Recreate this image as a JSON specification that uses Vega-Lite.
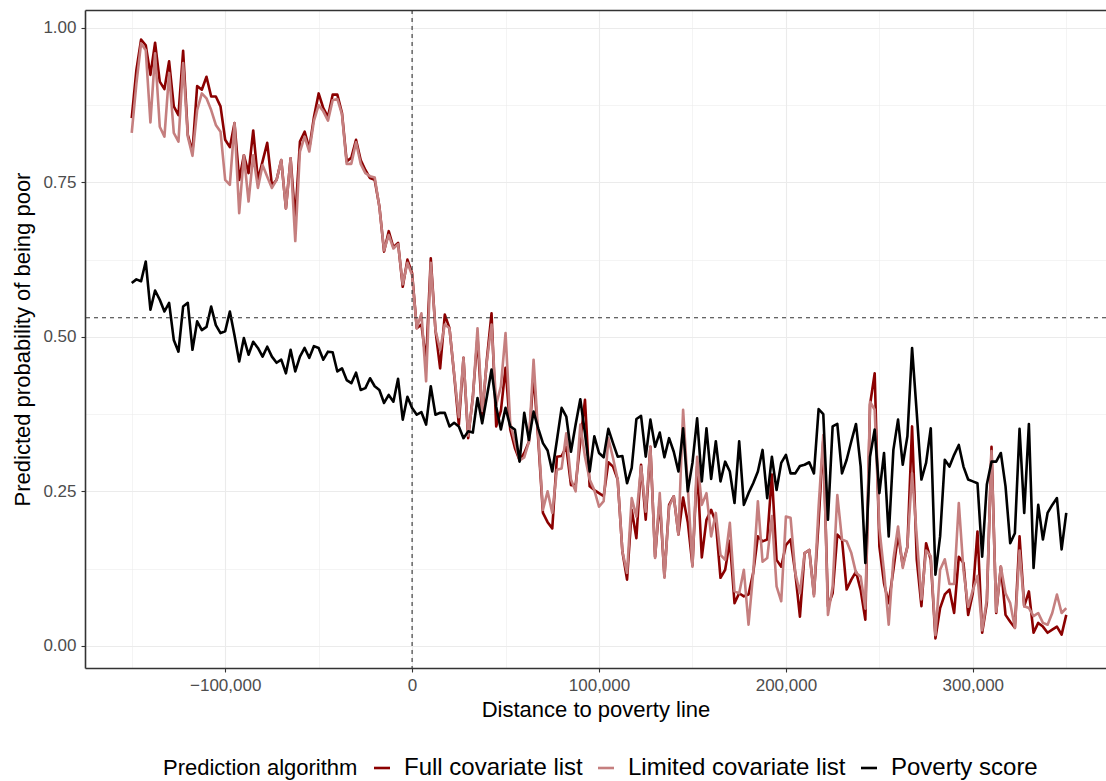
{
  "$schema": "https://vega.github.io/schema/vega-lite/v6.json",
  "width": 1021,
  "height": 658,
  "autosize": {"type": "none"},
  "padding": {"left": 85, "top": 10, "right": 0, "bottom": 113},
  "background": "white",
  "config": {
    "font": "Liberation Sans",
    "view": {"stroke": null},
    "axis": {
      "labelFont": "Liberation Sans", "labelFontSize": 17, "labelColor": "#4D4D4D",
      "titleFont": "Liberation Sans", "titleFontSize": 22, "titleFontWeight": "normal", "titleColor": "#000000",
      "tickColor": "#333333", "tickWidth": 1.1, "tickSize": 4,
      "domainColor": "#333333", "domainWidth": 1.6,
      "gridColor": "#EBEBEB", "gridWidth": 1.1
    }
  },
  "resolve": {"axis": {"x": "independent", "y": "independent"}},
  "layer": [
    {
      "data": {"values": [
        {"x":-150000,"full":0.854,"limited":0.830,"score":0.587},
        {"x":-147500,"full":0.932,"limited":0.910,"score":0.593},
        {"x":-145000,"full":0.981,"limited":0.975,"score":0.590},
        {"x":-142500,"full":0.972,"limited":0.964,"score":0.622},
        {"x":-140000,"full":0.924,"limited":0.847,"score":0.544},
        {"x":-137500,"full":0.976,"limited":0.959,"score":0.575},
        {"x":-135000,"full":0.913,"limited":0.840,"score":0.560},
        {"x":-132500,"full":0.901,"limited":0.824,"score":0.541},
        {"x":-130000,"full":0.946,"limited":0.927,"score":0.555},
        {"x":-127500,"full":0.873,"limited":0.830,"score":0.495},
        {"x":-125000,"full":0.859,"limited":0.816,"score":0.476},
        {"x":-122500,"full":0.963,"limited":0.943,"score":0.549},
        {"x":-120000,"full":0.827,"limited":0.824,"score":0.555},
        {"x":-117500,"full":0.800,"limited":0.793,"score":0.479},
        {"x":-115000,"full":0.906,"limited":0.867,"score":0.525},
        {"x":-112500,"full":0.900,"limited":0.894,"score":0.511},
        {"x":-110000,"full":0.921,"limited":0.886,"score":0.516},
        {"x":-107500,"full":0.889,"limited":0.867,"score":0.549},
        {"x":-105000,"full":0.889,"limited":0.843,"score":0.519},
        {"x":-102500,"full":0.873,"limited":0.832,"score":0.506},
        {"x":-100000,"full":0.819,"limited":0.754,"score":0.509},
        {"x":-97500,"full":0.807,"limited":0.746,"score":0.541},
        {"x":-95000,"full":0.846,"limited":0.846,"score":0.502},
        {"x":-92500,"full":0.754,"limited":0.700,"score":0.460},
        {"x":-90000,"full":0.794,"limited":0.794,"score":0.498},
        {"x":-87500,"full":0.765,"limited":0.719,"score":0.471},
        {"x":-85000,"full":0.834,"limited":0.794,"score":0.492},
        {"x":-82500,"full":0.754,"limited":0.741,"score":0.482},
        {"x":-80000,"full":0.784,"limited":0.778,"score":0.468},
        {"x":-77500,"full":0.814,"limited":0.759,"score":0.484},
        {"x":-75000,"full":0.745,"limited":0.741,"score":0.468},
        {"x":-72500,"full":0.754,"limited":0.754,"score":0.458},
        {"x":-70000,"full":0.786,"limited":0.786,"score":0.463},
        {"x":-67500,"full":0.708,"limited":0.708,"score":0.441},
        {"x":-65000,"full":0.789,"limited":0.789,"score":0.479},
        {"x":-62500,"full":0.690,"limited":0.655,"score":0.444},
        {"x":-60000,"full":0.816,"limited":0.800,"score":0.468},
        {"x":-57500,"full":0.832,"limited":0.824,"score":0.482},
        {"x":-55000,"full":0.805,"limited":0.800,"score":0.466},
        {"x":-52500,"full":0.856,"limited":0.850,"score":0.485},
        {"x":-50000,"full":0.894,"limited":0.875,"score":0.482},
        {"x":-47500,"full":0.870,"limited":0.865,"score":0.463},
        {"x":-45000,"full":0.856,"limited":0.850,"score":0.476},
        {"x":-42500,"full":0.892,"limited":0.883,"score":0.475},
        {"x":-40000,"full":0.892,"limited":0.885,"score":0.444},
        {"x":-37500,"full":0.862,"limited":0.860,"score":0.449},
        {"x":-35000,"full":0.784,"limited":0.780,"score":0.430},
        {"x":-32500,"full":0.790,"limited":0.780,"score":0.425},
        {"x":-30000,"full":0.819,"limited":0.815,"score":0.442},
        {"x":-27500,"full":0.786,"limited":0.780,"score":0.414},
        {"x":-25000,"full":0.770,"limited":0.765,"score":0.417},
        {"x":-22500,"full":0.757,"limited":0.760,"score":0.433},
        {"x":-20000,"full":0.754,"limited":0.758,"score":0.420},
        {"x":-17500,"full":0.711,"limited":0.710,"score":0.414},
        {"x":-15000,"full":0.638,"limited":0.640,"score":0.393},
        {"x":-12500,"full":0.671,"limited":0.665,"score":0.406},
        {"x":-10000,"full":0.645,"limited":0.643,"score":0.395},
        {"x":-7500,"full":0.652,"limited":0.650,"score":0.432},
        {"x":-5000,"full":0.581,"limited":0.585,"score":0.366},
        {"x":-2500,"full":0.625,"limited":0.620,"score":0.403},
        {"x":0,"full":0.603,"limited":0.600,"score":0.385},
        {"x":2500,"full":0.514,"limited":0.514,"score":0.374},
        {"x":5000,"full":0.520,"limited":0.538,"score":0.378},
        {"x":7500,"full":0.460,"limited":0.428,"score":0.358},
        {"x":10000,"full":0.627,"limited":0.620,"score":0.420},
        {"x":12500,"full":0.511,"limited":0.511,"score":0.374},
        {"x":15000,"full":0.449,"limited":0.479,"score":0.377},
        {"x":17500,"full":0.536,"limited":0.520,"score":0.377},
        {"x":20000,"full":0.514,"limited":0.514,"score":0.355},
        {"x":22500,"full":0.439,"limited":0.440,"score":0.361},
        {"x":25000,"full":0.358,"limited":0.370,"score":0.355},
        {"x":27500,"full":0.466,"limited":0.466,"score":0.336},
        {"x":30000,"full":0.336,"limited":0.340,"score":0.347},
        {"x":32500,"full":0.403,"limited":0.400,"score":0.345},
        {"x":35000,"full":0.500,"limited":0.514,"score":0.401},
        {"x":37500,"full":0.371,"limited":0.380,"score":0.360},
        {"x":40000,"full":0.463,"limited":0.460,"score":0.403},
        {"x":42500,"full":0.538,"limited":0.520,"score":0.447},
        {"x":45000,"full":0.355,"limited":0.390,"score":0.387},
        {"x":47500,"full":0.380,"limited":0.420,"score":0.350},
        {"x":50000,"full":0.450,"limited":0.506,"score":0.385},
        {"x":52500,"full":0.350,"limited":0.360,"score":0.355},
        {"x":55000,"full":0.320,"limited":0.330,"score":0.350},
        {"x":57500,"full":0.300,"limited":0.300,"score":0.298},
        {"x":60000,"full":0.312,"limited":0.305,"score":0.377},
        {"x":62500,"full":0.330,"limited":0.330,"score":0.333},
        {"x":65000,"full":0.440,"limited":0.463,"score":0.379},
        {"x":67500,"full":0.333,"limited":0.340,"score":0.352},
        {"x":70000,"full":0.215,"limited":0.220,"score":0.328},
        {"x":72500,"full":0.200,"limited":0.250,"score":0.316},
        {"x":75000,"full":0.190,"limited":0.215,"score":0.282},
        {"x":77500,"full":0.306,"limited":0.285,"score":0.333},
        {"x":80000,"full":0.307,"limited":0.287,"score":0.385},
        {"x":82500,"full":0.322,"limited":0.344,"score":0.371},
        {"x":85000,"full":0.260,"limited":0.269,"score":0.314},
        {"x":87500,"full":0.260,"limited":0.250,"score":0.358},
        {"x":90000,"full":0.330,"limited":0.358,"score":0.399},
        {"x":92500,"full":0.398,"limited":0.306,"score":0.344},
        {"x":95000,"full":0.258,"limited":0.269,"score":0.282},
        {"x":97500,"full":0.252,"limited":0.252,"score":0.339},
        {"x":100000,"full":0.247,"limited":0.225,"score":0.312},
        {"x":102500,"full":0.242,"limited":0.234,"score":0.305},
        {"x":105000,"full":0.297,"limited":0.336,"score":0.351},
        {"x":107500,"full":0.290,"limited":0.304,"score":0.328},
        {"x":110000,"full":0.269,"limited":0.269,"score":0.306},
        {"x":112500,"full":0.153,"limited":0.153,"score":0.307},
        {"x":115000,"full":0.107,"limited":0.118,"score":0.263},
        {"x":117500,"full":0.220,"limited":0.239,"score":0.288},
        {"x":120000,"full":0.174,"limited":0.209,"score":0.367},
        {"x":122500,"full":0.293,"limited":0.290,"score":0.372},
        {"x":125000,"full":0.204,"limited":0.217,"score":0.306},
        {"x":127500,"full":0.322,"limited":0.322,"score":0.366},
        {"x":130000,"full":0.144,"limited":0.142,"score":0.322},
        {"x":132500,"full":0.236,"limited":0.247,"score":0.345},
        {"x":135000,"full":0.112,"limited":0.110,"score":0.305},
        {"x":137500,"full":0.228,"limited":0.225,"score":0.336},
        {"x":140000,"full":0.242,"limited":0.242,"score":0.314},
        {"x":142500,"full":0.180,"limited":0.180,"score":0.282},
        {"x":145000,"full":0.240,"limited":0.382,"score":0.352},
        {"x":147500,"full":0.200,"limited":0.258,"score":0.250},
        {"x":150000,"full":0.130,"limited":0.128,"score":0.296},
        {"x":152500,"full":0.290,"limited":0.306,"score":0.368},
        {"x":155000,"full":0.143,"limited":0.228,"score":0.266},
        {"x":157500,"full":0.204,"limited":0.247,"score":0.352},
        {"x":160000,"full":0.220,"limited":0.177,"score":0.270},
        {"x":162500,"full":0.200,"limited":0.215,"score":0.331},
        {"x":165000,"full":0.110,"limited":0.147,"score":0.266},
        {"x":167500,"full":0.123,"limited":0.139,"score":0.298},
        {"x":170000,"full":0.170,"limited":0.199,"score":0.282},
        {"x":172500,"full":0.069,"limited":0.088,"score":0.231},
        {"x":175000,"full":0.085,"limited":0.085,"score":0.331},
        {"x":177500,"full":0.080,"limited":0.123,"score":0.228},
        {"x":180000,"full":0.083,"limited":0.034,"score":0.247},
        {"x":182500,"full":0.118,"limited":0.118,"score":0.263},
        {"x":185000,"full":0.177,"limited":0.234,"score":0.282},
        {"x":187500,"full":0.169,"limited":0.136,"score":0.317},
        {"x":190000,"full":0.172,"limited":0.142,"score":0.239},
        {"x":192500,"full":0.277,"limited":0.210,"score":0.306},
        {"x":195000,"full":0.139,"limited":0.096,"score":0.252},
        {"x":197500,"full":0.128,"limited":0.072,"score":0.296},
        {"x":200000,"full":0.163,"limited":0.209,"score":0.309},
        {"x":202500,"full":0.172,"limited":0.207,"score":0.279},
        {"x":205000,"full":0.118,"limited":0.118,"score":0.279},
        {"x":207500,"full":0.047,"limited":0.085,"score":0.291},
        {"x":210000,"full":0.150,"limited":0.150,"score":0.293},
        {"x":212500,"full":0.155,"limited":0.155,"score":0.297},
        {"x":215000,"full":0.083,"limited":0.080,"score":0.279},
        {"x":217500,"full":0.201,"limited":0.225,"score":0.383},
        {"x":220000,"full":0.333,"limited":0.341,"score":0.375},
        {"x":222500,"full":0.064,"limited":0.050,"score":0.204},
        {"x":225000,"full":0.085,"limited":0.096,"score":0.355},
        {"x":227500,"full":0.180,"limited":0.244,"score":0.359},
        {"x":230000,"full":0.172,"limited":0.172,"score":0.279},
        {"x":232500,"full":0.091,"limited":0.169,"score":0.301},
        {"x":235000,"full":0.107,"limited":0.150,"score":0.331},
        {"x":237500,"full":0.120,"limited":0.118,"score":0.359},
        {"x":240000,"full":0.090,"limited":0.112,"score":0.290},
        {"x":242500,"full":0.042,"limited":0.060,"score":0.134},
        {"x":245000,"full":0.390,"limited":0.395,"score":0.306},
        {"x":247500,"full":0.441,"limited":0.382,"score":0.350},
        {"x":250000,"full":0.161,"limited":0.190,"score":0.247},
        {"x":252500,"full":0.101,"limited":0.120,"score":0.312},
        {"x":255000,"full":0.069,"limited":0.034,"score":0.177},
        {"x":257500,"full":0.123,"limited":0.140,"score":0.317},
        {"x":260000,"full":0.180,"limited":0.193,"score":0.366},
        {"x":262500,"full":0.130,"limited":0.126,"score":0.293},
        {"x":265000,"full":0.160,"limited":0.161,"score":0.339},
        {"x":267500,"full":0.355,"limited":0.279,"score":0.482},
        {"x":270000,"full":0.140,"limited":0.177,"score":0.377},
        {"x":272500,"full":0.064,"limited":0.075,"score":0.269},
        {"x":275000,"full":0.166,"limited":0.154,"score":0.296},
        {"x":277500,"full":0.139,"limited":0.145,"score":0.352},
        {"x":280000,"full":0.012,"limited":0.017,"score":0.115},
        {"x":282500,"full":0.061,"limited":0.123,"score":0.177},
        {"x":285000,"full":0.083,"limited":0.140,"score":0.301},
        {"x":287500,"full":0.091,"limited":0.100,"score":0.290},
        {"x":290000,"full":0.053,"limited":0.100,"score":0.309},
        {"x":292500,"full":0.144,"limited":0.231,"score":0.325},
        {"x":295000,"full":0.134,"limited":0.122,"score":0.290},
        {"x":297500,"full":0.050,"limited":0.063,"score":0.269},
        {"x":300000,"full":0.085,"limited":0.090,"score":0.266},
        {"x":302500,"full":0.185,"limited":0.113,"score":0.263},
        {"x":305000,"full":0.021,"limited":0.025,"score":0.144},
        {"x":307500,"full":0.069,"limited":0.075,"score":0.261},
        {"x":310000,"full":0.322,"limited":0.315,"score":0.298},
        {"x":312500,"full":0.053,"limited":0.055,"score":0.298},
        {"x":315000,"full":0.128,"limited":0.128,"score":0.312},
        {"x":317500,"full":0.050,"limited":0.085,"score":0.258},
        {"x":320000,"full":0.039,"limited":0.069,"score":0.166},
        {"x":322500,"full":0.029,"limited":0.029,"score":0.182},
        {"x":325000,"full":0.177,"limited":0.154,"score":0.351},
        {"x":327500,"full":0.064,"limited":0.064,"score":0.215},
        {"x":330000,"full":0.088,"limited":0.061,"score":0.359},
        {"x":332500,"full":0.021,"limited":0.048,"score":0.126},
        {"x":335000,"full":0.037,"limited":0.053,"score":0.228},
        {"x":337500,"full":0.031,"limited":0.037,"score":0.172},
        {"x":340000,"full":0.021,"limited":0.034,"score":0.215},
        {"x":342500,"full":0.026,"limited":0.053,"score":0.228},
        {"x":345000,"full":0.031,"limited":0.083,"score":0.239},
        {"x":347500,"full":0.018,"limited":0.053,"score":0.156},
        {"x":350000,"full":0.050,"limited":0.061,"score":0.215}
      ]},
      "transform": [{"fold": ["full", "limited", "score"], "as": ["algorithm", "p"]}],
      "mark": {"type": "line", "strokeWidth": 2.6, "strokeJoin": "round"},
      "encoding": {
        "x": {
          "field": "x", "type": "quantitative",
          "scale": {"domain": [-175000, 371255], "nice": false, "zero": false},
          "axis": {"orient": "bottom", "values": [-100000, 0, 100000, 200000, 300000], "labelExpr": "format(datum.value, ',.0f')", "title": "Distance to poverty line", "grid": true, "labelPadding": 5, "titlePadding": 6, "labelFlush": false}
        },
        "y": {
          "field": "p", "type": "quantitative",
          "scale": {"domain": [-0.036, 1.029], "nice": false, "zero": false},
          "axis": {"orient": "left", "values": [0, 0.25, 0.5, 0.75, 1], "labelExpr": "format(datum.value, '.2f')", "title": "Predicted probability of being poor", "grid": true, "labelPadding": 5, "titlePadding": 8, "labelFlush": false}
        },
        "color": {
          "field": "algorithm", "type": "nominal",
          "scale": {"domain": ["full", "limited", "score"], "range": ["#8B0000", "#C57F7F", "#000000"]},
          "legend": {
            "orient": "none", "legendX": 78, "legendY": 746, "direction": "horizontal",
            "title": "Prediction algorithm", "titleOrient": "left", "titleFontSize": 22, "titleFontWeight": "normal", "titleColor": "#000000", "titlePadding": 12, "titleLimit": 500,
            "labelFontSize": 24, "labelColor": "#000000", "labelOffset": 10, "columnPadding": 9, "labelLimit": 500,
            "symbolType": "stroke", "symbolStrokeWidth": 2.6, "symbolSize": 256,
            "labelExpr": "datum.label == 'full' ? 'Full covariate list' : datum.label == 'limited' ? 'Limited covariate list' : 'Poverty score'"
          }
        }
      }
    },
    {
      "data": {"values": [{"xref": 0}]},
      "mark": {"type": "rule", "color": "#333333", "strokeWidth": 1.1, "strokeDash": [4, 4]},
      "encoding": {
        "x": {
          "field": "xref", "type": "quantitative",
          "axis": {"orient": "top", "values": [-150000, -50000, 50000, 150000, 250000, 350000], "grid": true, "gridWidth": 0.55, "labels": false, "ticks": false, "domain": true, "title": null}
        }
      }
    },
    {
      "data": {"values": [{"yref": 0.531}]},
      "mark": {"type": "rule", "color": "#333333", "strokeWidth": 1.1, "strokeDash": [4, 4]},
      "encoding": {
        "y": {
          "field": "yref", "type": "quantitative",
          "axis": {"orient": "right", "values": [0.125, 0.375, 0.625, 0.875], "grid": true, "gridWidth": 0.55, "labels": false, "ticks": false, "domain": false, "title": null}
        }
      }
    }
  ]
}
